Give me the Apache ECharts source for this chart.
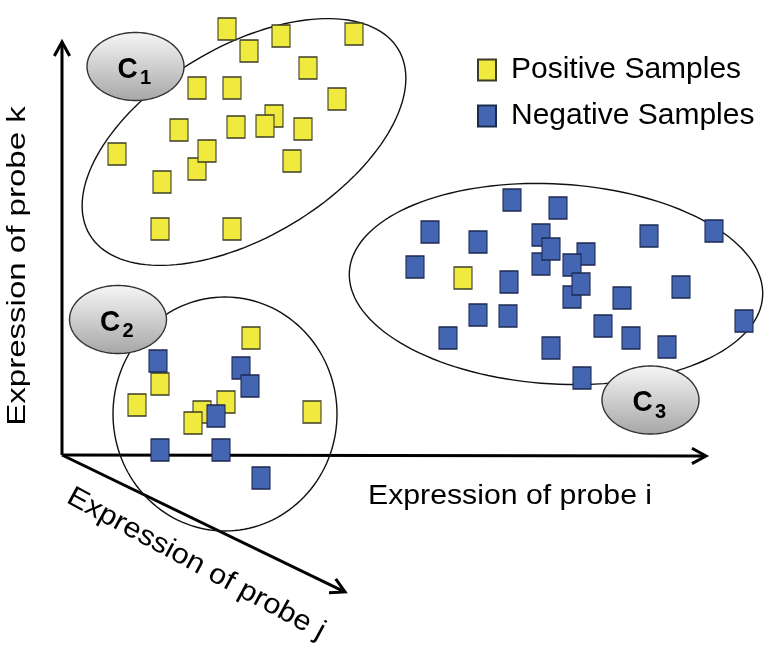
<!DOCTYPE html>
<html>
<head>
<meta charset="utf-8">
<title>Probe expression clusters</title>
<script src="https://cdn.jsdelivr.net/npm/echarts@6/dist/echarts.min.js"></script>
<style>
html, body { margin: 0; padding: 0; background: #fff; }
#chart { width: 771px; height: 653px; }
</style>
</head>
<body>
<div id="chart"></div>
<script>
// sample positions (x to the right, y downward)
var positiveSamples = [
    [227, 29], [249, 51], [281, 36], [354, 34], [308, 68], [197, 88], [232, 88], [337, 99],
    [274, 116], [265, 126], [179, 130], [236, 127], [303, 129], [117, 154], [197, 169], [207, 151],
    [162, 182], [292, 161], [160, 229], [232, 229],
    [463, 278],
    [251, 338], [160, 384], [137, 405], [226, 402], [202, 412], [193, 423], [312, 412]
];
var negativeSamples = [
    [512, 200], [558, 208], [430, 232], [478, 242], [541, 235], [541, 264], [551, 249], [586, 254],
    [572, 265], [572, 297], [581, 284], [649, 236], [714, 231], [415, 267], [509, 282], [681, 287],
    [622, 298], [478, 315], [508, 316], [744, 321], [448, 338], [603, 326], [631, 338], [551, 348],
    [667, 347], [582, 378],
    [158, 361], [241, 368], [250, 386], [216, 416], [160, 450], [221, 450], [261, 478]
];
// cluster outlines: [cx, cy, rx, ry, tilt in degrees]
var clusterOutlines = [[244, 142, 180, 95, 31], [225, 414, 112, 117, 0], [556, 284, 207, 100, -3.4]];
// cluster tags: [cx, cy, cluster number]
var clusterTags = [[135.5, 66.5, 1], [118, 319.5, 2], [650.5, 400, 3]];
// probe axes: [x0, y0, x1, y1]
var probeAxes = [[62, 455, 62, 42], [62, 455, 706, 456], [62, 455, 345, 592]];
var axisNames = ['Expression of probe k', 'Expression of probe i', 'Expression of probe j'];
var seriesNames = ['Positive Samples', 'Negative Samples'];

var FONT = '"Liberation Sans", Arial, sans-serif';

function ellipsePoints(c, rx, ry, tilt) {
    var pts = [];
    for (var k = 0; k < 144; k++) {
        var t = k / 144 * 2 * Math.PI;
        var ex = rx * Math.cos(t), ey = ry * Math.sin(t);
        pts.push([c[0] + ex * Math.cos(tilt) + ey * Math.sin(tilt),
                  c[1] - ex * Math.sin(tilt) + ey * Math.cos(tilt)]);
    }
    return pts;
}

function renderAxis(params, api) {
    var p0 = api.coord([api.value(0), api.value(1)]);
    var p1 = api.coord([api.value(2), api.value(3)]);
    var ang = Math.atan2(p1[1] - p0[1], p1[0] - p0[0]);
    var arm = 16, half = 0.5;
    var a1 = [p1[0] - arm * Math.cos(ang - half), p1[1] - arm * Math.sin(ang - half)];
    var a2 = [p1[0] - arm * Math.cos(ang + half), p1[1] - arm * Math.sin(ang + half)];
    return {
        type: 'group',
        children: [
            {type: 'line', shape: {x1: p0[0], y1: p0[1], x2: p1[0] - 2 * Math.cos(ang), y2: p1[1] - 2 * Math.sin(ang)},
             style: {stroke: '#000', lineWidth: 3}},
            {type: 'polyline', shape: {points: [a1, p1, a2]},
             style: {stroke: '#000', lineWidth: 3, fill: null}}
        ]
    };
}

function renderOutline(params, api) {
    var c = api.coord([api.value(0), api.value(1)]);
    var r = api.size([api.value(2), api.value(3)]);
    var tilt = api.value(4) * Math.PI / 180;
    return {
        type: 'polygon',
        shape: {points: ellipsePoints(c, Math.abs(r[0]), Math.abs(r[1]), tilt)},
        style: {fill: 'none', stroke: '#111', lineWidth: 1.4}
    };
}

function renderTag(params, api) {
    var c = api.coord([api.value(0), api.value(1)]);
    return {
        type: 'group',
        children: [
            {type: 'polygon', shape: {points: ellipsePoints(c, 48.5, 34, 0)},
             style: {
                 fill: new echarts.graphic.LinearGradient(0, 0, 0, 1, [
                     {offset: 0, color: '#f7f7f7'},
                     {offset: 1, color: '#a6a6a6'}
                 ]),
                 stroke: '#333', lineWidth: 1.4
             }},
            {type: 'text', x: c[0] - 8, y: c[1] + 3, scaleY: 1.08,
             style: {text: 'C', font: 'bold 28px ' + FONT, fill: '#000', align: 'center', verticalAlign: 'middle'}},
            {type: 'text', x: c[0] + 10, y: c[1] + 12,
             style: {text: String(api.value(2)), font: 'bold 20px ' + FONT, fill: '#000', align: 'center', verticalAlign: 'middle'}}
        ]
    };
}

var chart = echarts.init(document.getElementById('chart'));
chart.setOption({
    animation: false,
    backgroundColor: '#fff',
    grid: {left: 0, right: 0, top: 0, bottom: 0},
    xAxis: {type: 'value', min: 0, max: 771, show: false},
    yAxis: {type: 'value', min: 0, max: 653, inverse: true, show: false},
    legend: {
        orient: 'vertical',
        left: 472,
        top: 50,
        itemWidth: 18,
        itemHeight: 21,
        itemGap: 16,
        selectedMode: false,
        data: seriesNames,
        textStyle: {fontSize: 30, fontFamily: FONT, color: '#000', padding: [0, 0, 0, 10]}
    },
    graphic: [
        {type: 'text', x: 18, y: 266, rotation: Math.PI / 2, scaleX: 1.27,
         style: {text: axisNames[0], font: '26px ' + FONT, fill: '#000', align: 'center', verticalAlign: 'middle'}},
        {type: 'text', x: 368, y: 496, scaleX: 1.08,
         style: {text: axisNames[1], font: '28px ' + FONT, fill: '#000', align: 'left', verticalAlign: 'middle'}},
        {type: 'text', x: 196, y: 564, rotation: -28.5 * Math.PI / 180, scaleX: 1.1,
         style: {text: axisNames[2], font: '28px ' + FONT, fill: '#000', align: 'center', verticalAlign: 'middle'}}
    ],
    series: [
        {type: 'custom', name: 'axes', renderItem: renderAxis, data: probeAxes, z: 1, silent: true},
        {type: 'custom', name: 'outlines', renderItem: renderOutline, data: clusterOutlines, z: 2, silent: true},
        {type: 'custom', name: 'tags', renderItem: renderTag, data: clusterTags, z: 3, silent: true},
        {
            name: seriesNames[0], type: 'scatter', symbol: 'rect', symbolSize: [18, 22],
            data: positiveSamples, z: 5,
            itemStyle: {color: '#F0E93E', borderColor: '#3d3d25', borderWidth: 1.2, opacity: 1}
        },
        {
            name: seriesNames[1], type: 'scatter', symbol: 'rect', symbolSize: [18, 22],
            data: negativeSamples, z: 6,
            itemStyle: {color: '#4466B2', borderColor: '#1c2a52', borderWidth: 1.2, opacity: 1}
        }
    ]
});
</script>
</body>
</html>
